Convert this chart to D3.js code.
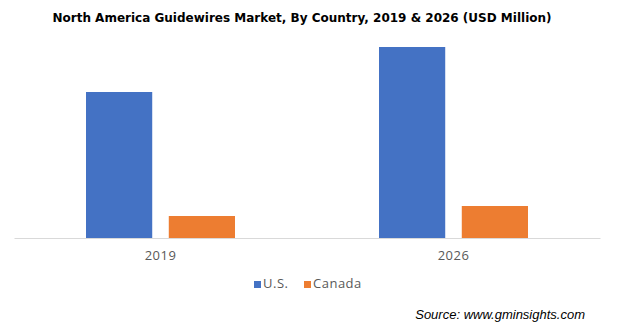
<!DOCTYPE html>
<html><head><meta charset="utf-8">
<script src="https://cdn.jsdelivr.net/npm/d3@7"></script>
<style>body{margin:0;background:#fff}svg{display:block}</style>
</head><body>
<svg id="chart" width="623" height="329"></svg>
<script>
const years = ["2019", "2026"];
const seriesNames = ["U.S.", "Canada"];
const usValues = [730, 955];
const canadaValues = [110, 160];
const colors = ["#4472C4", "#ED7D31"];

const svg = d3.select("#chart");
const W = 623, H = 329;
const m = {left: 14, right: 23, top: 38, bottom: 91};
const x0 = d3.scaleBand().domain(years).range([m.left, W - m.right]).paddingInner(0).paddingOuter(0);
const x1 = d3.scaleBand().domain(seriesNames).range([72, 293 - 72]).paddingInner(0.2).paddingOuter(0);
const y = d3.scaleLinear().domain([0, 1000]).range([H - m.bottom, m.top]);

svg.append("text").attr("x", 302).attr("y", 22).attr("text-anchor", "middle")
  .attr("font-family", "Verdana, 'DejaVu Sans', sans-serif").attr("font-weight", "bold")
  .attr("font-size", 12).attr("fill", "#000")
  .text("North America Guidewires Market, By Country, 2019 & 2026 (USD Million)");

const data = years.map((yr, i) => ({year: yr, vals: [usValues[i], canadaValues[i]]}));
const g = svg.append("g");
data.forEach(d => {
  d.vals.forEach((v, j) => {
    g.append("rect")
      .attr("x", x0(d.year) + x1(seriesNames[j]))
      .attr("y", y(v))
      .attr("width", x1.bandwidth())
      .attr("height", y(0) - y(v))
      .attr("fill", colors[j]);
  });
});

const xAxis = svg.append("g").attr("transform", `translate(0,${y(0)})`)
  .call(d3.axisBottom(x0).tickSize(0).tickPadding(13));
xAxis.select(".domain").attr("stroke", "#d9d9d9").attr("stroke-width", 1);
xAxis.selectAll("text").attr("font-family", "'Open Sans', sans-serif").attr("font-size", 13)
  .attr("fill", "#595959").attr("letter-spacing", 0.5);

const leg = svg.append("g");
const legX = [254, 304];
seriesNames.forEach((s, j) => {
  leg.append("rect").attr("x", legX[j]).attr("y", 281).attr("width", 7).attr("height", 7).attr("fill", colors[j]);
  leg.append("text").attr("x", legX[j] + 9).attr("y", 288)
    .attr("font-family", "'Open Sans', sans-serif").attr("font-size", 13)
    .attr("fill", "#595959").attr("letter-spacing", 0.5).text(s);
});

svg.append("text").attr("x", 585).attr("y", 319).attr("text-anchor", "end")
  .attr("font-family", "Arial, 'Liberation Sans', sans-serif").attr("font-style", "italic")
  .attr("font-size", 13).attr("fill", "#000")
  .text("Source: www.gminsights.com");
</script>
</body></html>
